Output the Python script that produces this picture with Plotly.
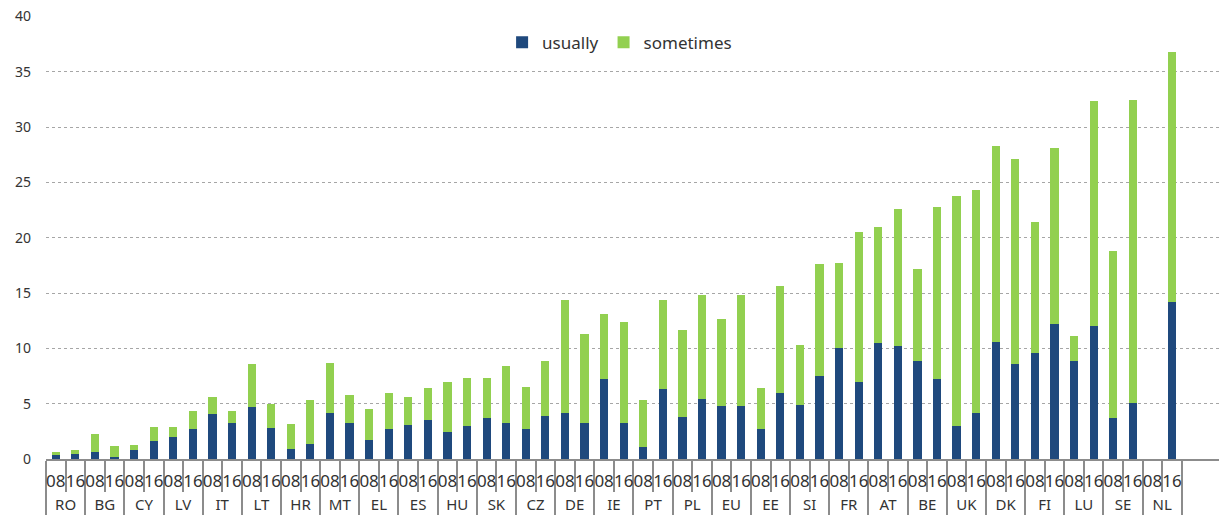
import plotly.graph_objects as go

countries = ["RO", "BG", "CY", "LV", "IT", "LT", "HR", "MT", "EL", "ES",
             "HU", "SK", "CZ", "DE", "IE", "PT", "PL", "EU", "EE", "SI",
             "FR", "AT", "BE", "UK", "DK", "FI", "LU", "SE", "NL"]
years = ["08", "16"]

usually_08 = [0.35, 0.6, 0.8, 2.0, 4.1, 4.7, 0.9, 4.2, 1.7, 3.1,
              2.4, 3.7, 2.7, 4.2, 7.2, 1.1, 3.8, 4.8, 2.7, 4.9,
              10.0, 10.5, 8.9, 3.0, 10.6, 9.6, 8.9, 3.7, None]
sometimes_08 = [0.25, 1.7, 0.5, 0.9, 1.5, 3.9, 2.3, 4.5, 2.8, 2.5,
                4.6, 3.6, 3.8, 10.2, 5.9, 4.2, 7.9, 7.9, 3.7, 5.4,
                7.7, 10.5, 8.3, 20.8, 17.7, 11.8, 2.2, 15.1, None]
usually_16 = [0.45, 0.15, 1.6, 2.7, 3.3, 2.8, 1.4, 3.3, 2.7, 3.5,
              3.0, 3.3, 3.9, 3.3, 3.3, 6.3, 5.4, 4.8, 6.0, 7.5,
              7.0, 10.2, 7.2, 4.2, 8.6, 12.2, 12.0, 5.1, 14.2]
sometimes_16 = [0.35, 1.05, 1.3, 1.6, 1.0, 2.2, 3.9, 2.5, 3.3, 2.9,
                4.3, 5.1, 5.0, 8.0, 9.1, 8.1, 9.4, 10.0, 9.6, 10.1,
                13.5, 12.4, 15.6, 20.1, 18.5, 15.9, 20.4, 27.4, 22.6]

YEAR_FMT = "<span style='font-size:17px'>{}</span>"
COUNTRY_FMT = "<br><span style='font-size:15px'>{}</span>"

x_country, x_year, usually, sometimes = [], [], [], []
for i, c in enumerate(countries):
    for y, u, s in ((years[0], usually_08, sometimes_08), (years[1], usually_16, sometimes_16)):
        x_country.append(COUNTRY_FMT.format(c))
        x_year.append(YEAR_FMT.format(y))
        usually.append(u[i])
        sometimes.append(s[i])

BLUE = "#1f497d"
GREEN = "#92d050"
GREY = "#8c8c8c"
FONT = "Noto Sans"

fig = go.Figure()
fig.add_trace(go.Bar(x=[x_country, x_year], y=usually, name="usually",
                     marker=dict(color=BLUE, line=dict(width=0))))
fig.add_trace(go.Bar(x=[x_country, x_year], y=sometimes, name="sometimes",
                     marker=dict(color=GREEN, line=dict(width=0))))

fig.update_layout(
    width=1219, height=519,
    barmode="stack", bargap=0.58,
    margin=dict(l=46, r=0, t=16, b=60),
    paper_bgcolor="white", plot_bgcolor="white",
    font=dict(family=FONT, size=15, color="#333333"),
    showlegend=True,
    legend=dict(orientation="h", x=0.489, xanchor="center", y=0.94, yanchor="middle",
                font=dict(size=17, color="#333333"), bgcolor="rgba(0,0,0,0)",
                traceorder="normal", tracegroupgap=0),
    xaxis=dict(type="multicategory", automargin=False, range=[-0.5, 59.4],
               tickangle=0, ticklabelstandoff=15,
               showline=True, linecolor=GREY, linewidth=2,
               ticks="outside", tickson="boundaries", ticklen=31,
               tickcolor=GREY, tickwidth=1.5,
               showdividers=True, dividercolor=GREY, dividerwidth=1.5,
               showgrid=False, tickfont=dict(size=9.5, color="#333333")),
    yaxis=dict(range=[0, 40.05], dtick=5, tick0=0, automargin=False,
               showgrid=True, gridcolor="#a6a6a6", griddash="dot", gridwidth=1,
               zeroline=False, showline=False, ticks="",
               ticklabelstandoff=14, tickfont=dict(size=14, color="#333333")),
)

fig.write_html("out.html", config={"displayModeBar": False},
               post_script="document.body.style.margin='0';document.body.style.overflow='hidden';")
